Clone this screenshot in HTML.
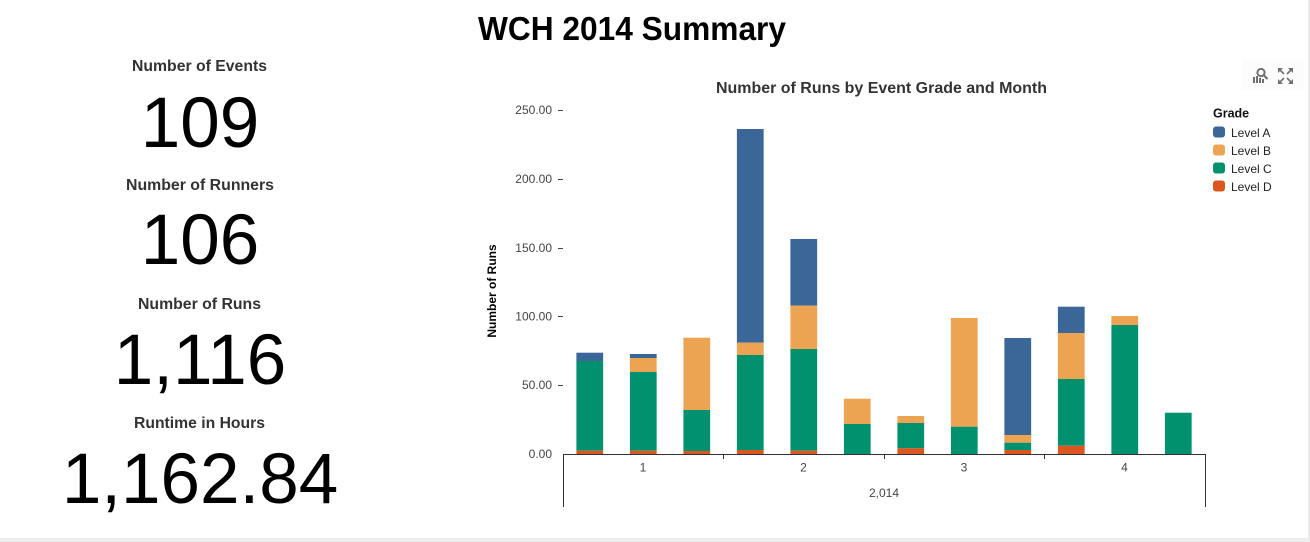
<!DOCTYPE html>
<html>
<head>
<meta charset="utf-8">
<style>
  html, body { margin:0; padding:0; background:#fff; }
  body { width:1310px; height:542px; overflow:hidden; }
  svg { display:block; }
  text { font-family: "Liberation Sans", Arial, sans-serif; }
</style>
</head>
<body>
<svg width="1310" height="542" viewBox="0 0 1310 542" xmlns="http://www.w3.org/2000/svg">
  <rect x="0" y="0" width="1310" height="542" fill="#ffffff"/>
  <!-- right/bottom borders -->
  <rect x="1308" y="0" width="2" height="542" fill="#ececec"/>
  <rect x="0" y="538" width="1310" height="4" fill="#eeeeee"/>

  <!-- Title -->
  <text x="478" y="40" font-size="33" font-weight="bold" fill="#000" textLength="308" lengthAdjust="spacingAndGlyphs">WCH 2014 Summary</text>

  <!-- KPI column -->
  <text x="132" y="71" font-size="15.5" font-weight="bold" fill="#333" textLength="135" lengthAdjust="spacingAndGlyphs">Number of Events</text>
  <text x="200" y="147" font-size="71" fill="#000" text-anchor="middle">109</text>

  <text x="126" y="190" font-size="15.5" font-weight="bold" fill="#333" textLength="148" lengthAdjust="spacingAndGlyphs">Number of Runners</text>
  <text x="200" y="264" font-size="71" fill="#000" text-anchor="middle">106</text>

  <text x="138" y="309" font-size="15.5" font-weight="bold" fill="#333" textLength="123" lengthAdjust="spacingAndGlyphs">Number of Runs</text>
  <text x="200" y="384" font-size="71" fill="#000" text-anchor="middle">1,116</text>

  <text x="134" y="428" font-size="15.5" font-weight="bold" fill="#333" textLength="131" lengthAdjust="spacingAndGlyphs">Runtime in Hours</text>
  <text x="200" y="503" font-size="71" fill="#000" text-anchor="middle">1,162.84</text>

  <!-- Chart title -->
  <text x="716" y="93" font-size="16" font-weight="bold" fill="#333" textLength="331" lengthAdjust="spacingAndGlyphs">Number of Runs by Event Grade and Month</text>

  <!-- Icons background -->
  <rect x="1242" y="60" width="62" height="30" fill="#fcfcfc"/>
  <!-- icon 1: bars + magnifier -->
  <g fill="#707070">
    <rect x="1253" y="77" width="2" height="6"/>
    <rect x="1256" y="76" width="2" height="7"/>
    <rect x="1259" y="78" width="2" height="5"/>
    <rect x="1262" y="79" width="2" height="4"/>
  </g>
  <circle cx="1261" cy="72.5" r="3.6" fill="none" stroke="#707070" stroke-width="2"/>
  <line x1="1263.5" y1="75" x2="1267.5" y2="79" stroke="#707070" stroke-width="2"/>
  <!-- icon 2: expand arrows -->
  <g stroke="#707070" stroke-width="1.6" fill="none">
    <line x1="1279" y1="69" x2="1284" y2="74"/>
    <line x1="1292" y1="69" x2="1287" y2="74"/>
    <line x1="1279" y1="83" x2="1284" y2="78"/>
    <line x1="1292" y1="83" x2="1287" y2="78"/>
  </g>
  <g fill="#707070">
    <polygon points="1278,68 1283,68 1278,73"/>
    <polygon points="1293,68 1288,68 1293,73"/>
    <polygon points="1278,84 1283,84 1278,79"/>
    <polygon points="1293,84 1288,84 1293,79"/>
  </g>

  <!-- Legend -->
  <text x="1213" y="117.5" font-size="12.5" font-weight="bold" fill="#111">Grade</text>
  <rect x="1213" y="126.5" width="12" height="11" rx="3" fill="#3a6698"/>
  <text x="1231" y="137" font-size="12" fill="#222">Level A</text>
  <rect x="1213" y="144.5" width="12" height="11" rx="3" fill="#eda452"/>
  <text x="1231" y="155" font-size="12" fill="#222">Level B</text>
  <rect x="1213" y="162.5" width="12" height="11" rx="3" fill="#01916f"/>
  <text x="1231" y="173" font-size="12" fill="#222">Level C</text>
  <rect x="1213" y="180.5" width="12" height="11" rx="3" fill="#dc5620"/>
  <text x="1231" y="191" font-size="12" fill="#222">Level D</text>

  <!-- Y axis title -->
  <text transform="translate(496,291) rotate(-90)" font-size="12" font-weight="bold" fill="#000" text-anchor="middle">Number of Runs</text>

  <!-- Y ticks -->
  <g font-size="12" fill="#444" text-anchor="end">
    <text x="552" y="114">250.00</text>
    <text x="552" y="183">200.00</text>
    <text x="552" y="252">150.00</text>
    <text x="552" y="320.5">100.00</text>
    <text x="552" y="389">50.00</text>
    <text x="552" y="458">0.00</text>
  </g>
  <g stroke="#444" stroke-width="1">
    <line x1="558" y1="110.5" x2="563" y2="110.5"/>
    <line x1="558" y1="179.5" x2="563" y2="179.5"/>
    <line x1="558" y1="248.5" x2="563" y2="248.5"/>
    <line x1="558" y1="316.5" x2="563" y2="316.5"/>
    <line x1="558" y1="385.5" x2="563" y2="385.5"/>
  </g>

  <!-- Bars -->
  <g>
    <rect x="576.4" y="352.7" width="26.75" height="8.3" fill="#3a6698"/>
    <rect x="576.4" y="361" width="26.75" height="89.7" fill="#01916f"/>
    <rect x="576.4" y="450.7" width="26.75" height="3.3" fill="#dc5620"/>

    <rect x="629.9" y="354" width="26.75" height="4" fill="#3a6698"/>
    <rect x="629.9" y="358" width="26.75" height="14" fill="#eda452"/>
    <rect x="629.9" y="372" width="26.75" height="78.7" fill="#01916f"/>
    <rect x="629.9" y="450.7" width="26.75" height="3.3" fill="#dc5620"/>

    <rect x="683.4" y="337.7" width="26.75" height="72.3" fill="#eda452"/>
    <rect x="683.4" y="410" width="26.75" height="41" fill="#01916f"/>
    <rect x="683.4" y="451" width="26.75" height="3" fill="#dc5620"/>

    <rect x="736.9" y="129" width="26.75" height="213.7" fill="#3a6698"/>
    <rect x="736.9" y="342.7" width="26.75" height="12.3" fill="#eda452"/>
    <rect x="736.9" y="355" width="26.75" height="95" fill="#01916f"/>
    <rect x="736.9" y="450" width="26.75" height="4" fill="#dc5620"/>

    <rect x="790.4" y="239" width="26.75" height="66.7" fill="#3a6698"/>
    <rect x="790.4" y="305.7" width="26.75" height="43.3" fill="#eda452"/>
    <rect x="790.4" y="349" width="26.75" height="101.7" fill="#01916f"/>
    <rect x="790.4" y="450.7" width="26.75" height="3.3" fill="#dc5620"/>

    <rect x="843.9" y="398.7" width="26.75" height="25.3" fill="#eda452"/>
    <rect x="843.9" y="424" width="26.75" height="30" fill="#01916f"/>

    <rect x="897.4" y="416" width="26.75" height="7" fill="#eda452"/>
    <rect x="897.4" y="423" width="26.75" height="25.3" fill="#01916f"/>
    <rect x="897.4" y="448.3" width="26.75" height="5.7" fill="#dc5620"/>

    <rect x="950.9" y="318" width="26.75" height="108.7" fill="#eda452"/>
    <rect x="950.9" y="426.7" width="26.75" height="27.3" fill="#01916f"/>

    <rect x="1004.4" y="338" width="26.75" height="97" fill="#3a6698"/>
    <rect x="1004.4" y="435" width="26.75" height="7.7" fill="#eda452"/>
    <rect x="1004.4" y="442.7" width="26.75" height="7.3" fill="#01916f"/>
    <rect x="1004.4" y="450" width="26.75" height="4" fill="#dc5620"/>

    <rect x="1057.9" y="306.7" width="26.75" height="26.3" fill="#3a6698"/>
    <rect x="1057.9" y="333" width="26.75" height="46" fill="#eda452"/>
    <rect x="1057.9" y="379" width="26.75" height="66.7" fill="#01916f"/>
    <rect x="1057.9" y="445.7" width="26.75" height="8.3" fill="#dc5620"/>

    <rect x="1111.4" y="316" width="26.75" height="9" fill="#eda452"/>
    <rect x="1111.4" y="325" width="26.75" height="129" fill="#01916f"/>

    <rect x="1164.9" y="412.7" width="26.75" height="41.3" fill="#01916f"/>
  </g>

  <!-- X axis -->
  <g stroke="#333" stroke-width="1">
    <line x1="563" y1="454.5" x2="1205.5" y2="454.5"/>
    <line x1="563.5" y1="454" x2="563.5" y2="507"/>
    <line x1="1205.5" y1="454" x2="1205.5" y2="507"/>
    <line x1="723.5" y1="454" x2="723.5" y2="459"/>
    <line x1="884.5" y1="454" x2="884.5" y2="459"/>
    <line x1="1044.5" y1="454" x2="1044.5" y2="459"/>
  </g>
  <g font-size="12" fill="#444" text-anchor="middle">
    <text x="643" y="471.5">1</text>
    <text x="803.5" y="471.5">2</text>
    <text x="964" y="471.5">3</text>
    <text x="1124.5" y="471.5">4</text>
    <text x="884" y="497">2,014</text>
  </g>
</svg>
</body>
</html>
